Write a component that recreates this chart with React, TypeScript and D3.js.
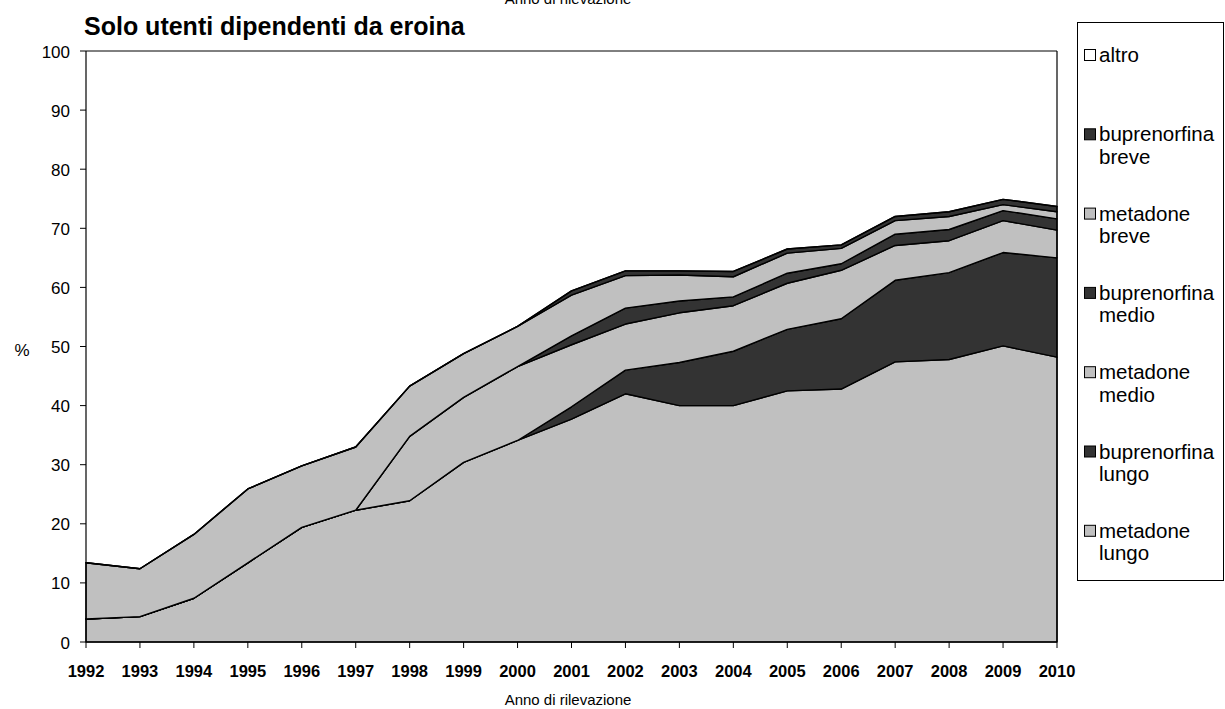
import React from "react";
import * as d3 from "d3";

const years = ["1992","1993","1994","1995","1996","1997","1998","1999","2000","2001","2002","2003","2004","2005","2006","2007","2008","2009","2010"];

const metadoneLungo = [3.9,4.3,7.4,13.4,19.4,22.3,23.9,30.4,34.1,37.7,42.0,40.0,40.0,42.5,42.8,47.4,47.8,50.1,48.2];
const buprenorfinaLungo = [0,0,0,0,0,0,0,0,0,2.1,4.0,7.3,9.2,10.4,11.9,13.8,14.7,15.8,16.8];
const metadoneMedio = [0,0,0,0,0,0,10.9,11.0,12.5,10.5,7.8,8.4,7.7,7.8,8.2,5.9,5.4,5.4,4.7];
const buprenorfinaMedio = [0,0,0,0,0,0,0,0,0,1.5,2.7,2.0,1.5,1.7,1.1,1.9,1.9,1.7,1.9];
const metadoneBreve = [9.5,8.1,10.8,12.5,10.4,10.7,8.5,7.4,6.8,6.9,5.5,4.4,3.4,3.4,2.6,2.3,2.2,1.0,1.2];
const buprenorfinaBreve = [0,0,0,0,0,0,0,0,0,0.7,0.8,0.7,0.9,0.7,0.6,0.7,0.8,0.9,0.9];
const altro = [0,0,0,0,0,0,0,0,0,0,0,0,0,0,0,0,0,0,0];

const yTicks = [0,10,20,30,40,50,60,70,80,90,100];

const seriesKeys = ["metadone lungo","buprenorfina lungo","metadone medio","buprenorfina medio","metadone breve","buprenorfina breve","altro"];
const seriesValues = [metadoneLungo, buprenorfinaLungo, metadoneMedio, buprenorfinaMedio, metadoneBreve, buprenorfinaBreve, altro];
const seriesColors = ["#C0C0C0","#333333","#C0C0C0","#333333","#C0C0C0","#333333","#FFFFFF"];

const legendItems = [
  { lines: ["altro"], color: "#FFFFFF" },
  { lines: ["buprenorfina", "breve"], color: "#333333" },
  { lines: ["metadone", "breve"], color: "#C0C0C0" },
  { lines: ["buprenorfina", "medio"], color: "#333333" },
  { lines: ["metadone", "medio"], color: "#C0C0C0" },
  { lines: ["buprenorfina", "lungo"], color: "#333333" },
  { lines: ["metadone", "lungo"], color: "#C0C0C0" },
];

export default function App() {
  const left = 86, right = 1057, top = 51, bottom = 642;
  const font = "'Liberation Sans', Arial, sans-serif";

  const x = d3.scalePoint<string>().domain(years).range([left, right]);
  const y = d3.scaleLinear().domain([0, 100]).range([bottom, top]);

  const table = years.map((yr, i) => {
    const row: any = { year: yr };
    seriesKeys.forEach((k, j) => { row[k] = seriesValues[j][i]; });
    return row;
  });
  const stacked = d3.stack<any>().keys(seriesKeys)(table);
  const area = d3.area<any>()
    .x((d) => x(d.data.year) as number)
    .y0((d) => y(d[0]))
    .y1((d) => y(d[1]));

  return (
    <svg width={1225} height={709} style={{ position: "absolute", left: 0, top: 0, display: "block", fontFamily: font }}>
      <rect x={0} y={0} width={1225} height={709} fill="#fff" />
      <text x={568} y={4} fontSize={15} textAnchor="middle" fill="#000">Anno di rilevazione</text>
      <text x={84} y={35} fontSize={25} fontWeight="bold" fill="#000">Solo utenti dipendenti da eroina</text>

      {stacked.map((s, i) => (
        <path key={seriesKeys[i]} d={area(s) as string} fill={seriesColors[i]} stroke="#000" strokeWidth={1.4} strokeLinejoin="round" />
      ))}

      <line x1={left} x2={right} y1={top} y2={top} stroke="#000" strokeWidth={1} />
      <line x1={right} x2={right} y1={top} y2={bottom} stroke="#000" strokeWidth={1.2} />

      <line x1={left} x2={left} y1={top} y2={bottom} stroke="#000" strokeWidth={1.2} />
      {yTicks.map((t) => (
        <g key={t}>
          <line x1={left - 6} x2={left} y1={y(t)} y2={y(t)} stroke="#000" strokeWidth={1} />
          <text x={70} y={y(t) + 6.5} fontSize={17} textAnchor="end" fill="#000">{t}</text>
        </g>
      ))}
      <text x={22} y={356} fontSize={17} textAnchor="middle" fill="#000">%</text>

      <line x1={left} x2={right} y1={bottom} y2={bottom} stroke="#000" strokeWidth={1.2} />
      {years.map((yr) => (
        <g key={yr}>
          <line x1={x(yr)} x2={x(yr)} y1={bottom} y2={bottom + 6} stroke="#000" strokeWidth={1} />
          <text x={x(yr)} y={677} fontSize={16.5} fontWeight="bold" textAnchor="middle" fill="#000">{yr}</text>
        </g>
      ))}
      <text x={568} y={705} fontSize={15} textAnchor="middle" fill="#000">Anno di rilevazione</text>

      <rect x={1077.5} y={22.5} width={146} height={558} fill="#fff" stroke="#000" strokeWidth={1} />
      {legendItems.map((it, i) => {
        const cy = 55 + i * 79.3;
        return (
          <g key={i}>
            <rect x={1084.5} y={cy - 5.5} width={11} height={11} fill={it.color} stroke="#000" strokeWidth={1} />
            {it.lines.map((ln, k) => (
              <text key={k} x={1099} y={cy + 7 + k * 22.5} fontSize={20.5} fill="#000">{ln}</text>
            ))}
          </g>
        );
      })}
    </svg>
  );
}
